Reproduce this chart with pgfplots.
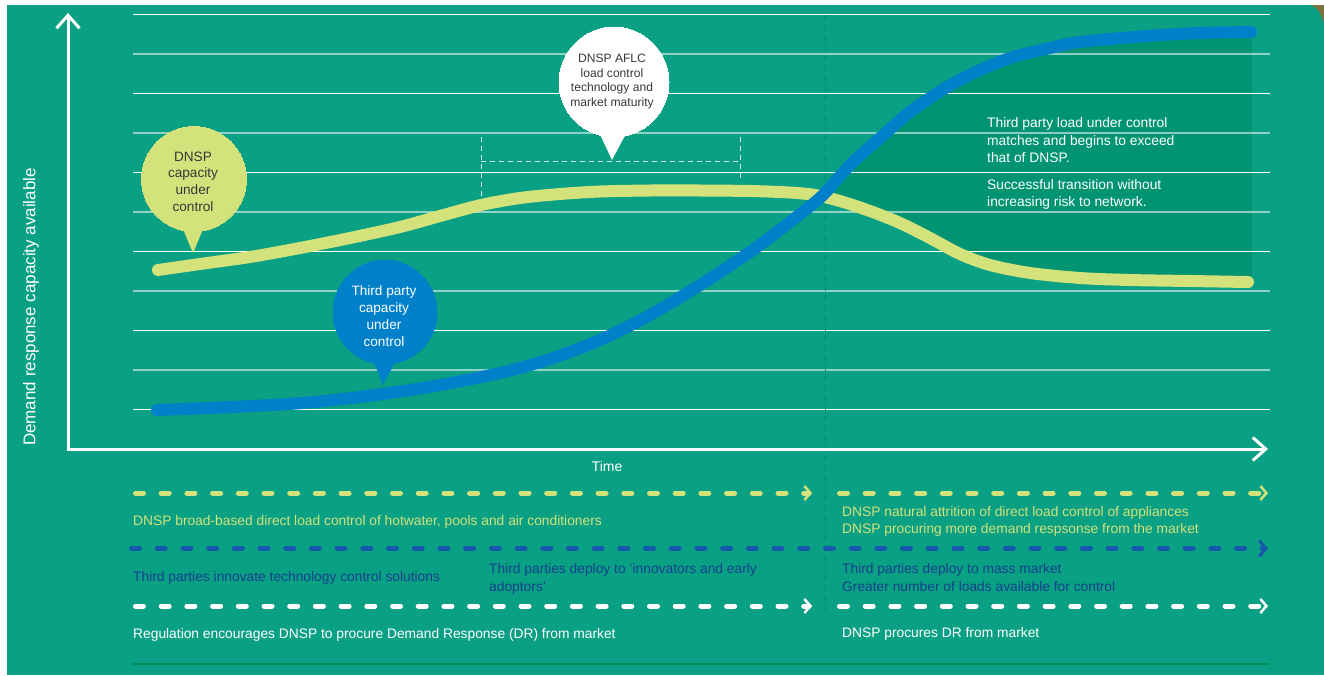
\documentclass[border=0pt]{standalone}
\usepackage{fontspec}
\setmainfont{Liberation Sans}
\usepackage{pgfplots}
\pgfplotsset{compat=1.18}
\usetikzlibrary{arrows.meta}
\definecolor{bg}{RGB}{9,160,132}
\definecolor{darkreg}{RGB}{0,148,114}
\definecolor{ylw}{RGB}{211,226,123}
\definecolor{blu}{RGB}{0,128,200}
\definecolor{bdash}{RGB}{22,88,172}
\definecolor{btext}{RGB}{20,64,140}
\definecolor{divl}{RGB}{0,138,108}
\definecolor{botl}{RGB}{0,140,90}
\definecolor{olivec}{RGB}{125,115,65}
\definecolor{graytxt}{RGB}{55,55,55}
\newcommand\fs[2]{\fontsize{#1}{#2}\selectfont}
\pgfplotsset{pix/.style={scale only axis, width=1324pt, height=675pt,
  xmin=0, xmax=1324, ymin=0, ymax=675, y dir=reverse, hide axis}}
\begin{document}
\begin{tikzpicture}
\begin{axis}[pix, axis background/.style={fill=bg}]
% frame strips
\addplot[fill=white, draw=none] coordinates {(0,0) (1324,0) (1324,5) (0,5)};
\addplot[fill=white, draw=none] coordinates {(0,0) (7,0) (7,675) (0,675)};
\addplot[fill=olivec, draw=none] coordinates {(1311,5) (1324,5) (1324,23) (1320,13) (1316,8)};
% dark region between curves
\addplot[fill=darkreg, draw=none] coordinates {
(822,196) (850,165) (880,138) (910,112) (947,87) (980,70) (1013,57) (1050,48)
(1080,42) (1147,36) (1200,33) (1252,32) (1252,282) (1190,281) (1130,280)
(1080,278) (1030,273) (990,265) (960,254) (930,238) (900,223) (870,211) (840,201)};
% grid lines
\addplot[white, line width=1.2pt] coordinates {(133,14.5) (1270,14.5)};
\addplot[white, opacity=0.55, line width=1.2pt] coordinates {(133,54) (1270,54)};
\addplot[white, line width=1.2pt] coordinates {(133,93.5) (1270,93.5)};
\addplot[white, opacity=0.55, line width=1.2pt] coordinates {(133,133) (1270,133)};
\addplot[white, line width=1.2pt] coordinates {(133,172.5) (1270,172.5)};
\addplot[white, opacity=0.55, line width=1.2pt] coordinates {(133,212) (1270,212)};
\addplot[white, line width=1.2pt] coordinates {(133,251.5) (1270,251.5)};
\addplot[white, opacity=0.55, line width=1.2pt] coordinates {(133,291) (1270,291)};
\addplot[white, line width=1.2pt] coordinates {(133,330.5) (1270,330.5)};
\addplot[white, opacity=0.55, line width=1.2pt] coordinates {(133,370) (1270,370)};
\addplot[white, line width=1.2pt] coordinates {(133,409.5) (1270,409.5)};
% divider
\addplot[divl, line width=1pt, dash pattern=on 6pt off 4pt] coordinates {(825,15) (825,615)};
% dashed box
\addplot[white, opacity=0.85, line width=1pt, dash pattern=on 5pt off 4pt] coordinates {(481,137) (481,197)};
\addplot[white, opacity=0.85, line width=1pt, dash pattern=on 5pt off 4pt] coordinates {(740,137) (740,182)};
\addplot[white, opacity=0.85, line width=1pt, dash pattern=on 5pt off 4pt] coordinates {(481,161) (740,161)};
% axes arrows
\addplot[white, line width=3pt, line join=miter,
  {Straight Barb[length=13pt,width=23pt]}-{Straight Barb[length=13pt,width=23pt]}]
  coordinates {(68,13) (68,449) (1268,449)};
% curves
\addplot[ylw, line width=12pt, line cap=round, smooth] coordinates {
(158,270) (200,264) (250,257) (300,248) (350,238) (400,227) (440,216) (481,205)
(520,198) (560,194) (600,191.5) (650,190.5) (700,190.5) (750,191) (790,192.5) (815,195)
(840,201) (870,211) (900,223) (930,238) (960,254) (990,265) (1030,273) (1080,278)
(1130,280) (1190,281) (1248,282)};
\addplot[blu, line width=12pt, line cap=round, smooth] coordinates {
(157,410) (220,407.5) (280,404.5) (320,401.5) (383,394) (440,385) (500,373) (550,359)
(600,340) (650,315) (700,285) (750,252) (790,222) (822,196) (850,165) (880,138)
(910,112) (947,87) (980,70) (1013,57) (1050,48) (1080,42) (1147,36) (1200,33) (1251,32)};
% bubbles
\addplot[ylw, only marks, mark=*, mark size=52.5pt, mark options={fill=ylw, draw=ylw, line width=0pt}] coordinates {(194,179)};
\addplot[fill=ylw, draw=none] coordinates {(180,222) (206,222) (193,253)};
\addplot[white, only marks, mark=*, mark size=55pt, mark options={fill=white, draw=white, line width=0pt}] coordinates {(614,82)};
\addplot[fill=white, draw=none] coordinates {(597,128) (629,128) (612,160)};
\addplot[blu, only marks, mark=*, mark size=52pt, mark options={fill=blu, draw=blu, line width=0pt}] coordinates {(385,312)};
\addplot[fill=blu, draw=none] coordinates {(371,355) (399,355) (383,385)};
% bottom dashed arrows
\addplot[ylw, line width=5pt, line cap=round, dash pattern=on 8pt off 17.7pt,
  -{Straight Barb[length=6pt,width=14pt,line width=2.5pt]}] coordinates {(135.5,493) (812,493)};
\addplot[ylw, line width=5pt, line cap=round, dash pattern=on 8pt off 17.7pt,
  -{Straight Barb[length=6pt,width=14pt,line width=2.5pt]}] coordinates {(839.5,493) (1268,493)};
\addplot[bdash, line width=5pt, line cap=round, dash pattern=on 8pt off 17.7pt,
  -{Straight Barb[length=7pt,width=16pt,line width=3pt]}] coordinates {(131.5,548.5) (1268,548.5)};
\addplot[white, line width=5pt, line cap=round, dash pattern=on 8pt off 17.7pt,
  -{Straight Barb[length=6pt,width=14pt,line width=2.5pt]}] coordinates {(135.5,606) (812,606)};
\addplot[white, line width=5pt, line cap=round, dash pattern=on 8pt off 17.7pt,
  -{Straight Barb[length=6pt,width=14pt,line width=2.5pt]}] coordinates {(839.5,606) (1268,606)};
\addplot[botl, line width=1.5pt] coordinates {(133,664) (1270,664)};
\end{axis}
\begin{axis}[pix]
% bubble texts
\begin{scope}[every node/.style={inner sep=0pt, anchor=base}]
\node[font=\fs{13.6}{16}, text=graytxt] at (axis cs:193,161.8) {DNSP};
\node[font=\fs{13.6}{16}, text=graytxt] at (axis cs:193,177.8) {capacity};
\node[font=\fs{13.6}{16}, text=graytxt] at (axis cs:193,194.8) {under};
\node[font=\fs{13.6}{16}, text=graytxt] at (axis cs:193,211.8) {control};
\node[font=\fs{13.6}{16}, text=white] at (axis cs:384,295.8) {Third party};
\node[font=\fs{13.6}{16}, text=white] at (axis cs:384,312.8) {capacity};
\node[font=\fs{13.6}{16}, text=white] at (axis cs:384,329.8) {under};
\node[font=\fs{13.6}{16}, text=white] at (axis cs:384,346.8) {control};
\node[font=\fs{12.1}{14}, text=graytxt] at (axis cs:612,62.3) {DNSP AFLC};
\node[font=\fs{12.1}{14}, text=graytxt] at (axis cs:612,77.3) {load control};
\node[font=\fs{12.1}{14}, text=graytxt] at (axis cs:612,91.3) {technology and};
\node[font=\fs{12.1}{14}, text=graytxt] at (axis cs:612,106.3) {market maturity};
\end{scope}
\begin{scope}[every node/.style={inner sep=0pt, anchor=base west, font=\fs{13.8}{16}}]
\node[text=white] at (axis cs:987,127.7) {Third party load under control};
\node[text=white] at (axis cs:987,145.7) {matches and begins to exceed};
\node[text=white] at (axis cs:987,162.7) {that of DNSP.};
\node[text=white] at (axis cs:987,189.7) {Successful transition without};
\node[text=white] at (axis cs:987,206.7) {increasing risk to network.};
\node[text=ylw] at (axis cs:133,525.7) {DNSP broad-based direct load control of hotwater, pools and air conditioners};
\node[text=ylw] at (axis cs:842,516.7) {DNSP natural attrition of direct load control of appliances};
\node[text=ylw] at (axis cs:842,533.7) {DNSP procuring more demand respsonse from the market};
\node[text=btext] at (axis cs:133,581.7) {Third parties innovate technology control solutions};
\node[text=btext] at (axis cs:489,573.7) {Third parties deploy to ‘innovators and early};
\node[text=btext] at (axis cs:489,591.2) {adoptors’};
\node[text=btext] at (axis cs:842,573.7) {Third parties deploy to mass market};
\node[text=btext] at (axis cs:842,591.2) {Greater number of loads available for control};
\node[text=white] at (axis cs:133,638.5) {Regulation encourages DNSP to procure Demand Response (DR) from market};
\node[text=white] at (axis cs:842,637.7) {DNSP procures DR from market};
\end{scope}
\node[font=\fs{14}{16}, text=white, anchor=center] at (axis cs:607,466) {Time};
\node[font=\fs{17}{19}, text=white, anchor=center, rotate=90] at (axis cs:31,307) {Demand response capacity available};
\end{axis}
\end{tikzpicture}
\end{document}
